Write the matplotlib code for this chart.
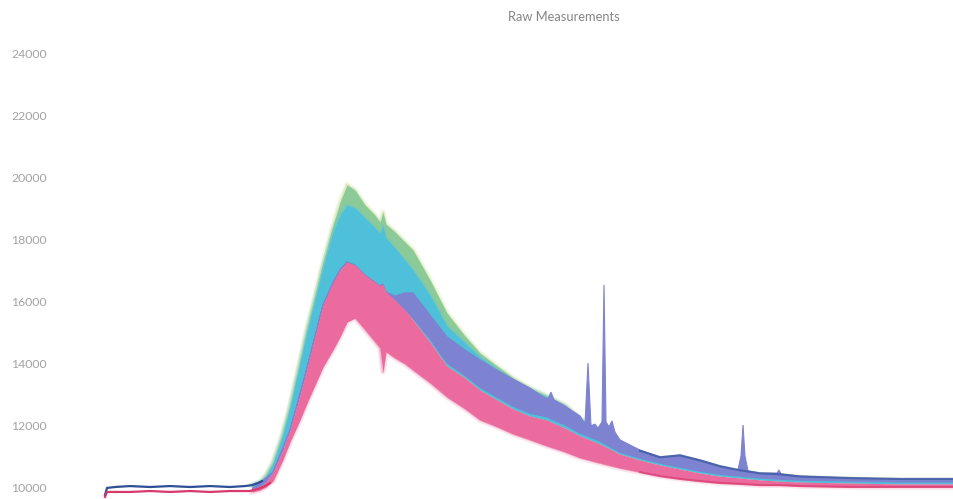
import numpy as np
import matplotlib.pyplot as plt

# ------------------------------------------------------------
# Raw spectra, summarised as colour-group envelopes per channel
# ------------------------------------------------------------

band_channel = [147, 155, 161, 168, 177, 185, 195, 202, 210, 218, 228, 235, 242,
                250, 260, 270, 275, 278, 281, 290, 300, 308, 325, 342, 360, 375,
                392, 408, 425, 442, 460, 475, 495, 515, 535, 555, 575, 595, 615,
                635, 655, 675, 695, 745, 795, 849]

green_upper = [10060, 10160, 10390, 10810, 11680, 12650, 14100, 15130, 16190, 17260,
               18450, 19190, 19750, 19580, 19100, 18770, 18550, 18870, 18480, 18230,
               17900, 17650, 16680, 15610, 14870, 14320, 13900, 13520, 13190, 12940,
               12650, 12230, 11770, 11260, 11000, 10840, 11000, 10810, 10610, 10490,
               10400, 10370, 10310, 10250, 10220, 10220]

cyan_upper = [10060, 10160, 10350, 10740, 11580, 12550, 13970, 15000, 16030, 17070,
              18230, 18770, 19100, 19000, 18680, 18360, 18190, 18420, 18030, 17710,
              17320, 17000, 16190, 15190, 14650, 14190, 13810, 13450, 13160, 12900,
              12610, 12190, 11740, 11230, 10970, 10810, 10940, 10740, 10580, 10460,
              10370, 10340, 10280, 10220, 10190, 10190]

purple_lower = [9940, 10030, 10160, 10480, 11130, 11840, 12970, 13840, 14870, 15870,
                16610, 17000, 17260, 17160, 16840, 16610, 16480, 16550, 16290, 16030,
                15710, 15450, 14780, 14000, 13600, 13220, 12900, 12610, 12380, 12260,
                12000, 11740, 11480, 11120, 10930, 10770, 10640, 10510, 10410, 10350,
                10290, 10250, 10220, 10190, 10160, 10160]

pink_upper = [9940, 10030, 10160, 10480, 11130, 11840, 12970, 13840, 14870, 15870,
              16610, 17000, 17260, 17160, 16840, 16610, 16480, 16550, 16290, 16030,
              15710, 15390, 14680, 13900, 13520, 13130, 12810, 12520, 12290, 12160,
              11900, 11650, 11390, 11060, 10870, 10710, 10580, 10450, 10350, 10290,
              10230, 10190, 10160, 10130, 10100, 10100]

pink_lower = [9840, 9900, 10000, 10190, 10810, 11450, 12160, 12710, 13290, 13870,
              14420, 14840, 15320, 15450, 15070, 14680, 14480, 13710, 14360, 14160,
              13970, 13770, 13360, 12900, 12520, 12160, 11940, 11710, 11520, 11320,
              11130, 10940, 10770, 10610, 10480, 10350, 10260, 10190, 10130, 10100,
              10060, 10060, 10030, 10000, 10000, 10000]

# upper edge of the purple group, including the narrow emission peaks
purple_channel = [147, 168, 185, 202, 218, 235, 242, 260, 275, 281, 290, 300, 308,
                  325, 342, 360, 375, 392, 408, 425, 440, 443, 446, 449, 460, 475,
                  480, 483, 486, 490, 493, 497, 499, 501, 504, 507, 510, 515, 535,
                  555, 575, 595, 615, 633, 636, 638, 640, 643, 655, 672, 674, 676,
                  695, 745, 795, 849]

purple_upper = [9940, 10480, 11840, 13840, 15870, 17000, 17260, 16770, 16480, 16290,
                16160, 16260, 16260, 15550, 14840, 14420, 14100, 13770, 13480, 13190,
                12870, 12840, 13060, 12810, 12610, 12290, 12030, 14000, 11970, 12030,
                11900, 12100, 16520, 12100, 11940, 12130, 11770, 11520, 11190, 10970,
                11030, 10870, 10680, 10550, 11000, 12000, 11000, 10520, 10450, 10450,
                10550, 10420, 10350, 10290, 10260, 10260]

# dark-current segment before the rise
base_upper_channel = [0, 2, 10, 25, 45, 65, 85, 105, 125, 140, 147, 153, 157]
base_upper = [9740, 9970, 10000, 10030, 10000, 10030, 10000, 10030, 10000, 10030,
              10060, 10130, 10190]
base_lower_channel = [0, 2, 25, 45, 65, 85, 105, 125, 145, 153, 160, 165]
base_lower = [9680, 9840, 9840, 9870, 9840, 9870, 9840, 9870, 9870, 9940, 10030, 10130]

# long tail after the main band
tail_channel = [535, 555, 575, 595, 615, 635, 655, 675, 695, 745, 795, 849]
tail_upper = [11170, 10960, 11020, 10860, 10670, 10540, 10440, 10410, 10340, 10290,
              10260, 10260]
tail_lower = [10480, 10350, 10260, 10190, 10130, 10100, 10060, 10060, 10030,
              10000, 10000, 10000]

y_ticks = [10000, 12000, 14000, 16000, 18000, 20000, 22000, 24000]

# ------------------------------------------------------------
# Figure
# ------------------------------------------------------------

plt.rcParams['font.family'] = ['Lato', 'DejaVu Sans']

fig = plt.figure(figsize=(9.54, 4.99), dpi=100)
ax = fig.add_axes([55 / 954, 0, 899 / 954, 1])

bx = np.array(band_channel)

def band(upper, lower, color, edge, z):
    ax.fill_between(bx, upper, lower, color=color, lw=0, zorder=z)
    # soft fringe where the individual traces spread out
    ax.plot(bx, upper, color=edge, lw=4, alpha=0.22, zorder=z - 0.5,
            solid_joinstyle='round')
    ax.plot(bx, upper, color=edge, lw=1.6, alpha=0.45, zorder=z - 0.4,
            solid_joinstyle='round')

band(green_upper, pink_upper, '#8ccb98', '#c6dc94', 2)
band(cyan_upper, pink_upper, '#4ec0da', '#74c7c4', 3)

# purple group as a closed outline (its top has its own channel grid)
poly_x = np.concatenate([purple_channel, bx[::-1]])
poly_y = np.concatenate([purple_upper, np.array(purple_lower)[::-1]])
ax.fill(poly_x, poly_y, color='#7d83d0', lw=0.8, ec='#7d83d0', zorder=4)

ax.fill_between(bx, pink_upper, pink_lower, color='#eb6b9e', lw=0, zorder=5)
ax.plot(bx, pink_lower, color='#f3aac6', lw=4, alpha=0.3, zorder=4.4)
ax.plot(bx, pink_lower, color='#ee88b0', lw=1.5, alpha=0.5, zorder=4.5)

ax.plot(base_upper_channel, base_upper, color='#2f4f94', lw=1.6, zorder=6)
ax.plot(base_lower_channel, base_lower, color='#d8396c', lw=1.6, zorder=6)
ax.plot(tail_channel, tail_upper, color='#3a58a0', lw=1.6, alpha=0.75, zorder=6)
ax.plot(tail_channel, tail_lower, color='#d8396c', lw=1.5, alpha=0.7, zorder=6)

ax.set_xlim(-50, 849)
ax.set_ylim(9613, 25710)
ax.set_yticks(y_ticks)
ax.set_yticklabels([str(v) for v in y_ticks])
ax.tick_params(axis='y', length=0, pad=6, labelsize=8.8, labelcolor='#a3a3a3')
ax.set_xticks([])
for s in ax.spines.values():
    s.set_visible(False)

fig.text(564 / 954, 1 - 17 / 499, 'Raw Measurements', ha='center', va='center',
         fontsize=9.3, color='#858585')

fig.savefig('out.png', dpi=100)
